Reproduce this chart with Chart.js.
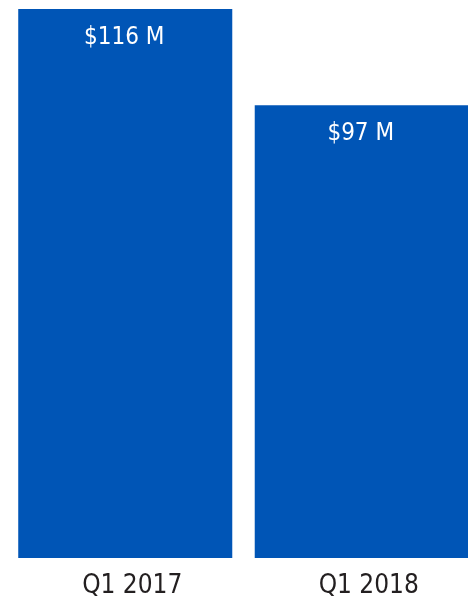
<!DOCTYPE html>
<html lang="en">
<head>
  <meta charset="UTF-8" />
  <title>Q1 Comparison</title>
  <script src="https://cdn.jsdelivr.net/npm/chart.js"></script>
  <style>
    html, body {
      margin: 0;
      background: white;
      overflow: hidden;
    }
    .wrap {
      width: 480px;
      height: 614px;
      position: relative;
    }
  </style>
</head>
<body>

<div class="wrap">
  <canvas id="revChart"></canvas>
</div>

<script>
  const categories = ['Q1 2017', 'Q1 2018'];
  const revenue = [116, 97];
  const valueLabels = ['$116 M', '$97 M'];

  const barColor = '#0055b6';
  const condensed = '"DejaVu Sans Condensed", "Liberation Sans", sans-serif';

  // white labels inside the top of each bar
  const valueLabelPlugin = {
    id: 'valueLabels',
    afterDatasetsDraw(chart) {
      const ctx = chart.ctx;
      const meta = chart.getDatasetMeta(0);
      ctx.save();
      ctx.fillStyle = '#ffffff';
      ctx.font = '24px ' + condensed;
      ctx.textAlign = 'center';
      ctx.textBaseline = 'alphabetic';
      meta.data.forEach((bar, i) => {
        ctx.fillText(valueLabels[i], bar.x - 1, bar.y + 35);
      });
      ctx.restore();
    }
  };

  new Chart(document.getElementById('revChart'), {
    type: 'bar',
    data: {
      labels: categories,
      datasets: [{
        data: revenue,
        backgroundColor: barColor,
        barPercentage: 0.905,
        categoryPercentage: 1
      }]
    },
    options: {
      responsive: true,
      maintainAspectRatio: false,
      animation: false,
      layout: { padding: { left: 7, right: 0, top: 9, bottom: 0 } },
      plugins: {
        legend: { display: false },
        tooltip: { enabled: false }
      },
      scales: {
        x: {
          grid: { display: false, drawTicks: false },
          border: { display: false },
          ticks: {
            color: '#231f20',
            padding: 15,
            labelOffset: 7,
            font: { family: condensed, size: 26, lineHeight: 1 }
          }
        },
        y: {
          display: false,
          min: 7.5,
          max: 116
        }
      }
    },
    plugins: [valueLabelPlugin]
  });
</script>

</body>
</html>
